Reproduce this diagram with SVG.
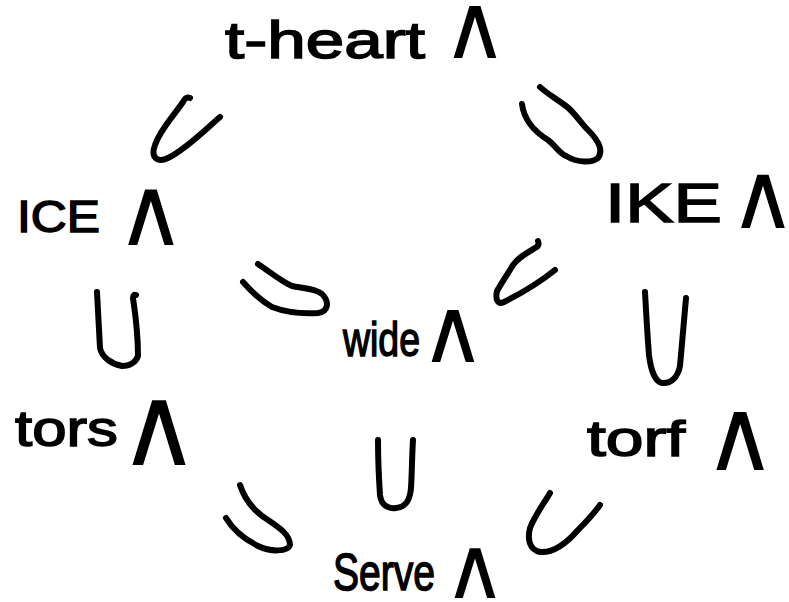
<svg xmlns="http://www.w3.org/2000/svg" width="789" height="602" viewBox="0 0 789 602">
<style>
.lbl{font-family:"Liberation Sans",Arial,sans-serif;fill:#000;stroke:#000;stroke-width:1.5;}
.op{font-family:"DejaVu Sans",sans-serif;fill:#000;text-anchor:middle;}
.cup{fill:none;stroke:#000;stroke-width:6;stroke-linecap:round;stroke-linejoin:round;}
</style>
<rect width="789" height="602" fill="#fff"/>
<g id="connectors">
<path class="cup" d="M190,98 Q186,96 183,102 C172,118 160,130 155,145 C150,158 158,163 168,158 C185,150 205,130 220,117"/>
<path class="cup" d="M522,104 C524,120 535,132 548,140 C556,146 558,152 566,156 C578,163 592,163 598,158 C604,150 598,140 588,130 C580,122 574,112 566,106 C555,98 545,92 540,87"/>
<path class="cup" d="M258,264 C270,272 282,282 292,286 C300,288 315,288 322,294 C330,302 328,312 318,313 C300,314 285,312 272,307 C260,300 250,290 243,282"/>
<path class="cup" d="M538,241 Q540,246 535,248 C525,254 518,258 513,265 C507,275 502,282 497,291 C495,300 498,305 504,302 C520,294 540,282 555,270"/>
<path class="cup" d="M97,292 C98,310 99,330 100,348 C102,358 112,364 122,366 C130,366 136,362 138,356 C138,340 136,318 133,298 Q133,294 136,295"/>
<path class="cup" d="M645,292 C646,310 647,330 649,355 C651,372 656,382 662,383 C672,384 678,376 680,366 C682,345 684,320 686,298"/>
<path class="cup" d="M240,485 C245,500 255,512 268,520 C280,528 290,535 290,545 C288,552 270,552 258,546 C242,538 232,528 226,518"/>
<path class="cup" d="M378,440 C378,460 379,480 380,495 C381,505 388,509 396,508 C406,507 410,500 411,488 C412,472 412,455 413,440"/>
<path class="cup" d="M550,493 C543,505 535,515 530,528 C527,540 530,550 540,552 C552,553 565,545 578,530 C588,520 595,512 600,505"/>
</g>
<g id="t-heart">
<text class="lbl" x="225" y="58" font-size="52" textLength="200" lengthAdjust="spacingAndGlyphs">t-heart</text>
<text class="op" x="475" y="58" font-size="90">∧</text>
</g>
<g id="ICE">
<text class="lbl" x="17" y="232" font-size="45" textLength="83" lengthAdjust="spacingAndGlyphs">ICE</text>
<text class="op" x="151" y="245" font-size="96">∧</text>
</g>
<g id="IKE">
<text class="lbl" x="605" y="222" font-size="56" textLength="117" lengthAdjust="spacingAndGlyphs">IKE</text>
<text class="op" x="763" y="228" font-size="92">∧</text>
</g>
<g id="wide">
<text class="lbl" x="343" y="356" font-size="48" textLength="77" lengthAdjust="spacingAndGlyphs">wide</text>
<text class="op" x="453" y="362" font-size="90">∧</text>
</g>
<g id="tors">
<text class="lbl" x="15" y="446" font-size="50" textLength="103" lengthAdjust="spacingAndGlyphs">tors</text>
<text class="op" x="159" y="465" font-size="112">∧</text>
</g>
<g id="torf">
<text class="lbl" x="587" y="456" font-size="50" textLength="98" lengthAdjust="spacingAndGlyphs">torf</text>
<text class="op" x="740" y="470" font-size="100">∧</text>
</g>
<g id="Serve">
<text class="lbl" x="333" y="590" font-size="52" textLength="102" lengthAdjust="spacingAndGlyphs">Serve</text>
<text class="op" x="475" y="598" font-size="86">∧</text>
</g>
</svg>
